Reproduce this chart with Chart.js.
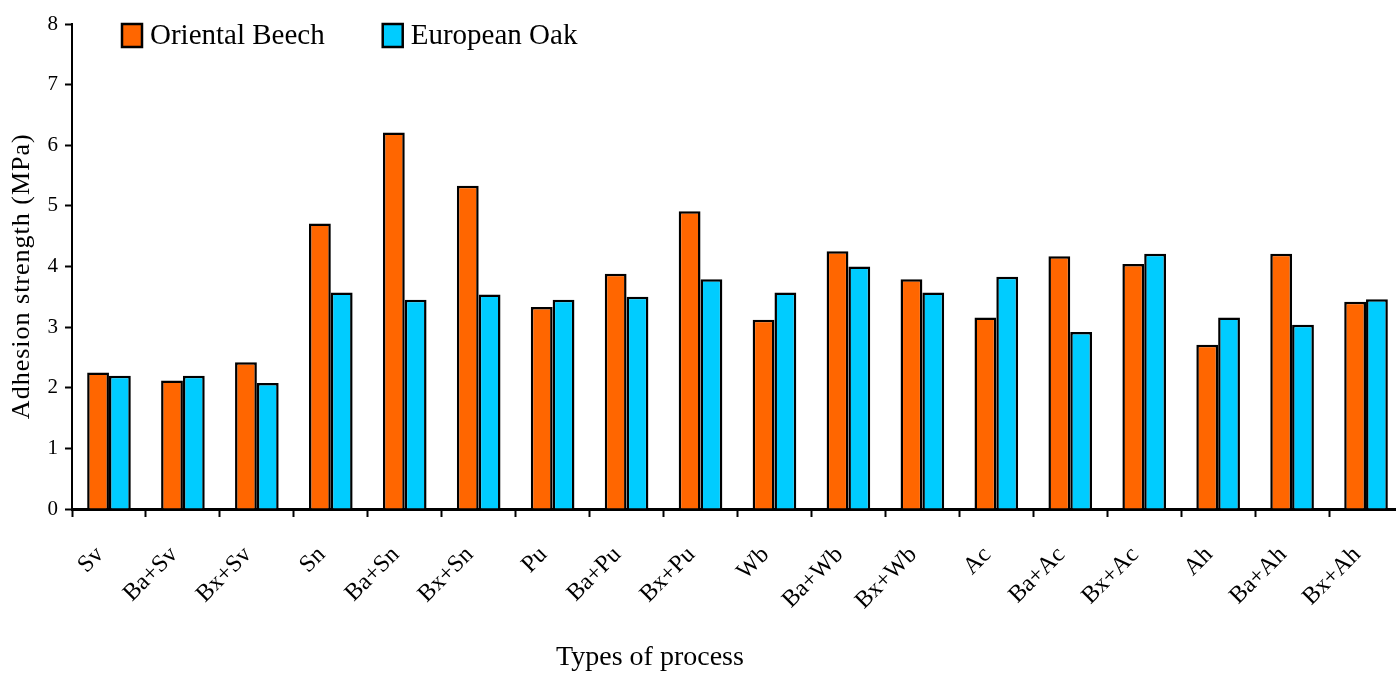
<!DOCTYPE html>
<html>
<head>
<meta charset="utf-8">
<title>Adhesion strength by type of process</title>
<script src="https://cdn.jsdelivr.net/npm/chart.js@4.4.1/dist/chart.umd.min.js"></script>
<style>
    html, body { margin: 0; padding: 0; background: #fff; overflow: hidden; }
    #wrap { width: 1396px; height: 675px; position: relative; overflow: hidden; }
    /* the plot runs a few pixels past the right edge in the reference */
    #inner { width: 1403px; height: 675px; position: relative; }
</style>
</head>
<body>
<div id="wrap"><div id="inner"><canvas id="adhesionChart"></canvas></div></div>
<script>
// values (MPa)
const processTypes = ['Sv', 'Ba+Sv', 'Bx+Sv', 'Sn', 'Ba+Sn', 'Bx+Sn', 'Pu', 'Ba+Pu', 'Bx+Pu',
    'Wb', 'Ba+Wb', 'Bx+Wb', 'Ac', 'Ba+Ac', 'Bx+Ac', 'Ah', 'Ba+Ah', 'Bx+Ah'];
const orientalBeech = [2.25, 2.12, 2.42, 4.71, 6.21, 5.33, 3.33, 3.88, 4.91,
    3.12, 4.25, 3.79, 3.16, 4.17, 4.04, 2.71, 4.21, 3.42];
const europeanOak = [2.20, 2.20, 2.08, 3.57, 3.45, 3.54, 3.45, 3.50, 3.79,
    3.57, 4.00, 3.57, 3.83, 2.92, 4.21, 3.16, 3.04, 3.46];
const yTickValues = [0, 1, 2, 3, 4, 5, 6, 7, 8];

const serif = '"Liberation Serif", "Times New Roman", serif';

// legend drawn inside the plot, top left
const legendPlugin = {
    id: 'insideLegend',
    afterDraw(chart) {
        const ctx = chart.ctx;
        const area = chart.chartArea;
        let x = area.left + 50;
        const y = 24;
        ctx.save();
        ctx.font = '29px ' + serif;
        ctx.textBaseline = 'middle';
        ctx.textAlign = 'left';
        chart.data.datasets.forEach(ds => {
            ctx.fillStyle = ds.backgroundColor;
            ctx.fillRect(x, y, 20, 23);
            ctx.lineWidth = 2.5;
            ctx.strokeStyle = '#000';
            ctx.strokeRect(x, y, 20, 23);
            ctx.fillStyle = '#000';
            ctx.fillText(ds.label, x + 28, y + 12);
            x += 28 + ctx.measureText(ds.label).width + 58;
        });
        ctx.restore();
    }
};

// axis titles, placed where the reference has them
const axisTitlePlugin = {
    id: 'axisTitles',
    afterDraw(chart) {
        const ctx = chart.ctx;
        const area = chart.chartArea;
        ctx.save();
        ctx.fillStyle = '#000';
        ctx.textAlign = 'center';
        ctx.textBaseline = 'middle';
        ctx.font = '28px ' + serif;
        ctx.fillText('Types of process', 650, chart.height - 17);

        ctx.translate(22, area.top + 0.52 * (area.bottom - area.top));
        ctx.rotate(-Math.PI / 2);
        ctx.font = '26px ' + serif;
        if ('letterSpacing' in ctx) {
            ctx.letterSpacing = '1px';
        }
        ctx.fillText('Adhesion strength (MPa)', 0, 0);
        ctx.restore();
    }
};

new Chart(document.getElementById('adhesionChart'), {
    type: 'bar',
    data: {
        labels: processTypes,
        datasets: [
            {
                label: 'Oriental Beech',
                data: orientalBeech,
                backgroundColor: '#FF6600',
                borderColor: '#000',
                borderWidth: 2.5,
                categoryPercentage: 0.59,
                barPercentage: 1.0
            },
            {
                label: 'European Oak',
                data: europeanOak,
                backgroundColor: '#00CCFF',
                borderColor: '#000',
                borderWidth: 2.5,
                categoryPercentage: 0.59,
                barPercentage: 1.0
            }
        ]
    },
    options: {
        responsive: true,
        maintainAspectRatio: false,
        animation: false,
        layout: { padding: { top: 24, right: 0, bottom: 0, left: 0 } },
        plugins: {
            legend: { display: false },
            tooltip: { enabled: false }
        },
        scales: {
            x: {
                offset: true,
                grid: {
                    offset: true,
                    drawOnChartArea: false,
                    drawTicks: true,
                    tickLength: 8,
                    tickWidth: 2,
                    tickColor: '#000'
                },
                border: { color: '#000', width: 3 },
                ticks: {
                    color: '#000',
                    font: { family: serif, size: 24 },
                    minRotation: 45,
                    maxRotation: 45,
                    padding: 24,
                    labelOffset: -9,
                    autoSkip: false
                },
                afterFit(scale) {
                    scale.height = 166;
                    scale.paddingLeft = 0;
                    scale.paddingRight = 0;
                }
            },
            y: {
                min: 0,
                max: 8,
                afterBuildTicks(scale) {
                    scale.ticks = yTickValues.map(v => ({ value: v }));
                },
                grid: {
                    drawOnChartArea: false,
                    drawTicks: true,
                    tickLength: 7,
                    tickWidth: 2,
                    tickColor: '#000'
                },
                border: { color: '#000', width: 2 },
                ticks: {
                    color: '#000',
                    font: { family: serif, size: 21 },
                    padding: 7
                },
                afterFit(scale) {
                    scale.width = 72;
                    scale.paddingTop = 0;
                }
            }
        }
    },
    plugins: [legendPlugin, axisTitlePlugin]
});
</script>
</body>
</html>
